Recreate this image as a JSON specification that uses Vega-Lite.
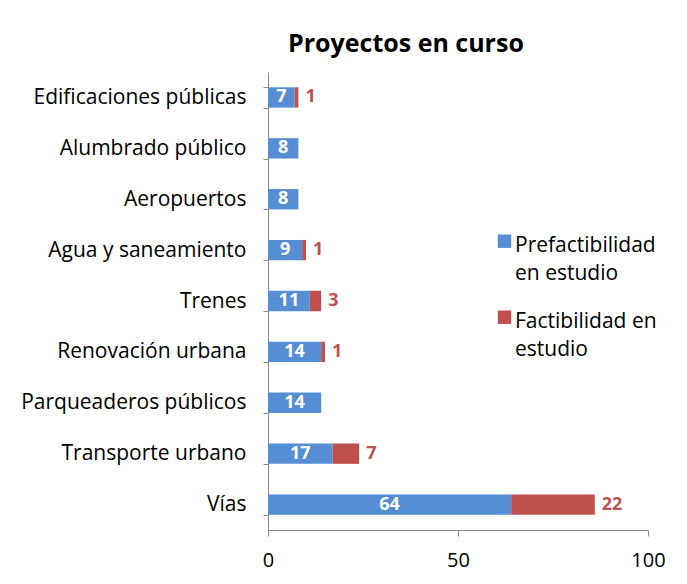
{
  "$schema": "https://vega.github.io/schema/vega-lite/v6.json",
  "width": 380,
  "height": 458,
  "autosize": {"type": "none"},
  "padding": {"left": 268, "top": 72, "right": 39, "bottom": 54},
  "background": "white",
  "title": {
    "text": "Proyectos en curso",
    "anchor": "start",
    "frame": "group",
    "dx": 20,
    "offset": 4,
    "font": "Open Sans",
    "fontSize": 25,
    "fontWeight": "bold",
    "color": "#000000"
  },
  "config": {
    "view": {"stroke": null},
    "font": "Open Sans",
    "style": {"guide-label": {"lineHeight": 28}}
  },
  "data": {
    "values": [
      {"categoria": "Edificaciones públicas", "tipo": "Prefactibilidad en estudio", "valor": 7},
      {"categoria": "Edificaciones públicas", "tipo": "Factibilidad en estudio", "valor": 1},
      {"categoria": "Alumbrado público", "tipo": "Prefactibilidad en estudio", "valor": 8},
      {"categoria": "Aeropuertos", "tipo": "Prefactibilidad en estudio", "valor": 8},
      {"categoria": "Agua y saneamiento", "tipo": "Prefactibilidad en estudio", "valor": 9},
      {"categoria": "Agua y saneamiento", "tipo": "Factibilidad en estudio", "valor": 1},
      {"categoria": "Trenes", "tipo": "Prefactibilidad en estudio", "valor": 11},
      {"categoria": "Trenes", "tipo": "Factibilidad en estudio", "valor": 3},
      {"categoria": "Renovación urbana", "tipo": "Prefactibilidad en estudio", "valor": 14},
      {"categoria": "Renovación urbana", "tipo": "Factibilidad en estudio", "valor": 1},
      {"categoria": "Parqueaderos públicos", "tipo": "Prefactibilidad en estudio", "valor": 14},
      {"categoria": "Transporte urbano", "tipo": "Prefactibilidad en estudio", "valor": 17},
      {"categoria": "Transporte urbano", "tipo": "Factibilidad en estudio", "valor": 7},
      {"categoria": "Vías", "tipo": "Prefactibilidad en estudio", "valor": 64},
      {"categoria": "Vías", "tipo": "Factibilidad en estudio", "valor": 22}
    ]
  },
  "encoding": {
    "y": {
      "field": "categoria",
      "type": "nominal",
      "sort": null,
      "title": null,
      "scale": {"paddingInner": 0.6, "paddingOuter": 0.3},
      "axis": {
        "domainColor": "#8c8c8c",
        "tickColor": "#8c8c8c",
        "tickBand": "extent",
        "tickSize": 5,
        "labelPadding": 17,
        "labelFont": "Open Sans",
        "labelFontSize": 21,
        "labelLimit": 260,
        "labelColor": "#000000"
      }
    },
    "order": {"field": "tipo", "sort": "descending"}
  },
  "layer": [
    {
      "mark": {"type": "bar"},
      "encoding": {
        "x": {
          "field": "valor",
          "type": "quantitative",
          "stack": "zero",
          "title": null,
          "scale": {"domain": [0, 100]},
          "axis": {
            "values": [0, 50, 100],
            "grid": false,
            "domainColor": "#8c8c8c",
            "tickColor": "#8c8c8c",
            "tickSize": 6,
            "labelPadding": 14,
            "labelFont": "Open Sans",
            "labelFontSize": 20,
            "labelColor": "#000000",
            "labelFlush": false
          }
        },
        "color": {
          "field": "tipo",
          "type": "nominal",
          "scale": {
            "domain": ["Prefactibilidad en estudio", "Factibilidad en estudio"],
            "range": ["#558ed5", "#c0504d"]
          },
          "legend": {
            "title": null,
            "orient": "none",
            "legendX": 226,
            "legendY": 152,
            "symbolType": "M-1,0H1V2H-1Z",
            "symbolSize": 180,
            "symbolStrokeWidth": 0,
            "symbolOffset": 0,
            "labelFont": "Open Sans",
            "labelFontSize": 21,
            "labelColor": "#000000",
            "labelLimit": 300,
            "labelOffset": 0,
            "labelBaseline": "top",
            "rowPadding": 16,
            "labelExpr": "datum.label == 'Prefactibilidad en estudio' ? ['Prefactibilidad', 'en estudio'] : ['Factibilidad en', 'estudio']"
          }
        }
      }
    },
    {
      "transform": [{"filter": "datum.tipo == 'Prefactibilidad en estudio'"}],
      "mark": {"type": "text", "color": "white", "fontWeight": "bold", "fontSize": 18, "font": "Open Sans", "baseline": "middle"},
      "encoding": {
        "x": {"field": "valor", "type": "quantitative", "stack": "zero", "bandPosition": 0.5},
        "detail": {"field": "tipo"},
        "text": {"field": "valor", "type": "quantitative"}
      }
    },
    {
      "mark": {"type": "text", "color": "#c0504d", "fontWeight": "bold", "fontSize": 18, "font": "Open Sans", "align": "left", "dx": 7, "baseline": "middle"},
      "encoding": {
        "x": {"field": "valor", "type": "quantitative", "stack": "zero"},
        "detail": {"field": "tipo"},
        "text": {
          "field": "valor",
          "type": "quantitative",
          "condition": {"test": "datum.tipo == 'Prefactibilidad en estudio'", "value": ""}
        }
      }
    }
  ]
}
